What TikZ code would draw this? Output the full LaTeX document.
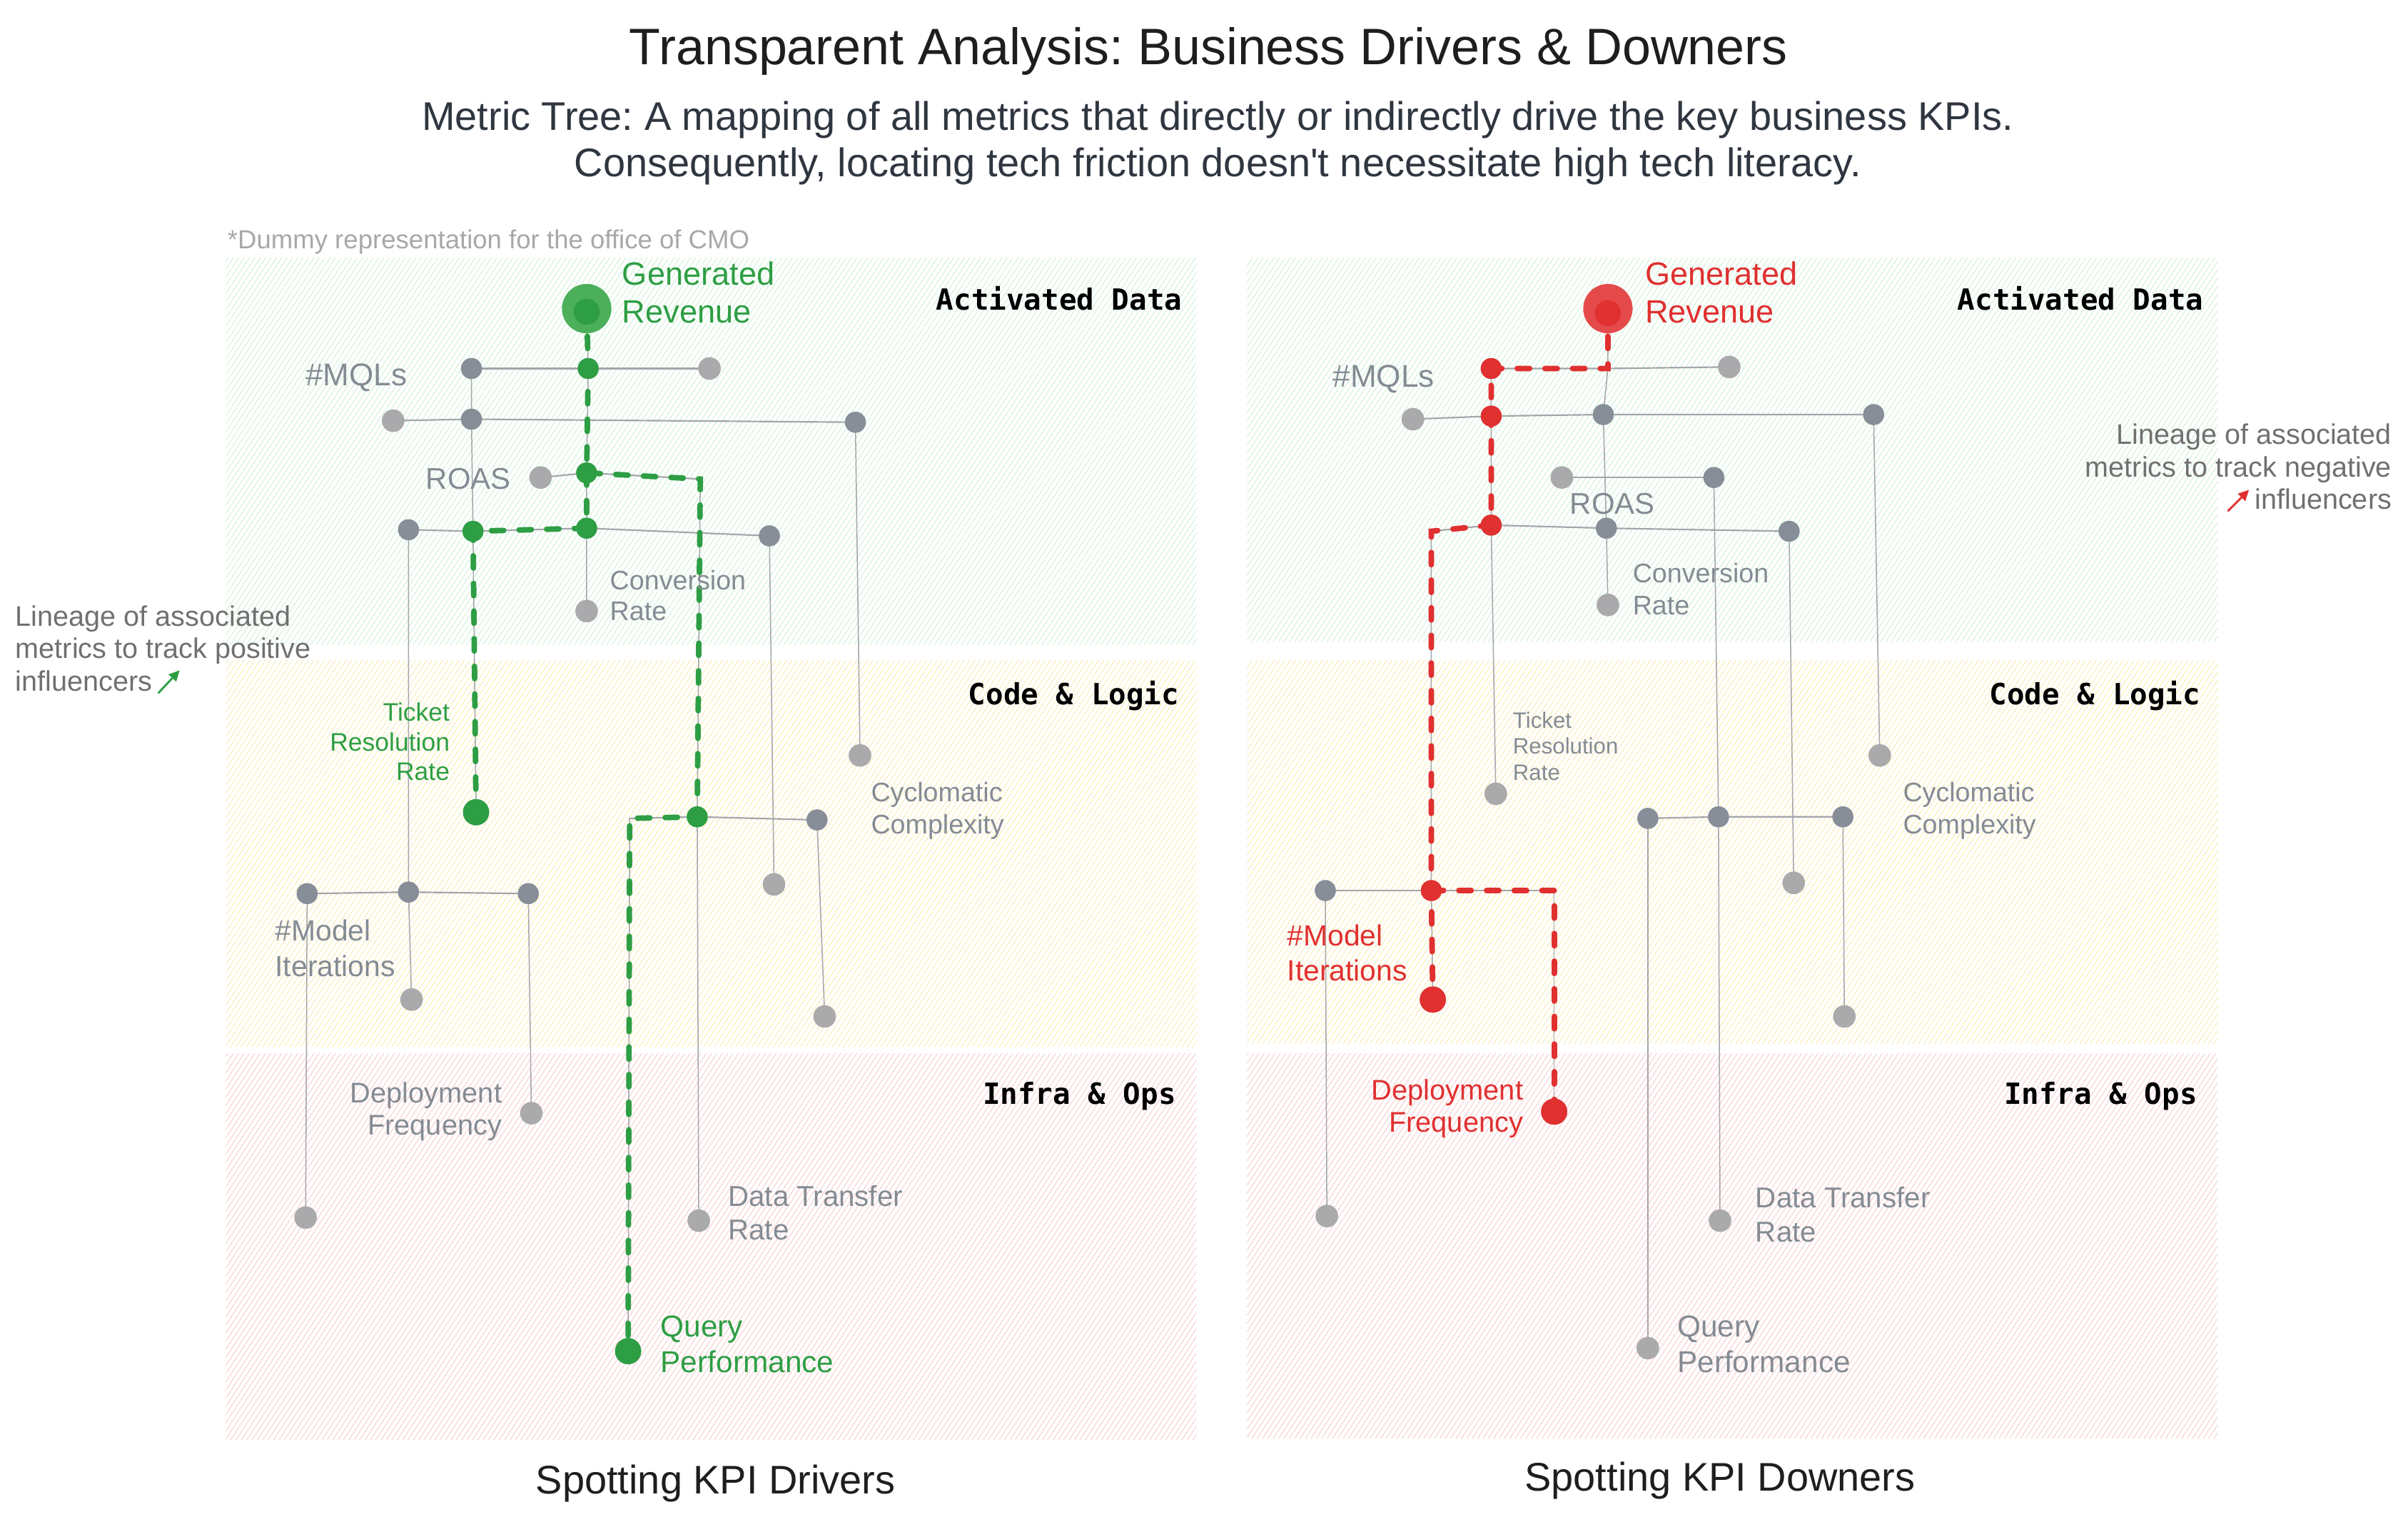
\documentclass[tikz,border=0pt]{standalone}
\usepackage{fontspec}
\setmainfont{Liberation Sans}[Ligatures=TeXOff]
\newfontfamily\monof{DejaVu Sans Mono}
\usetikzlibrary{arrows.meta}
\frenchspacing
\definecolor{grn}{HTML}{2E9E44}
\definecolor{grnL}{HTML}{4CAF5A}
\definecolor{red1}{HTML}{E03030}
\definecolor{redL}{HTML}{E54A4A}
\definecolor{dkc}{HTML}{878E98}
\definecolor{ltc}{HTML}{A9A9AB}
\definecolor{linec}{HTML}{A3A6AA}
\definecolor{labc}{HTML}{858B93}
\definecolor{annc}{HTML}{707070}
\definecolor{notec}{HTML}{A8A8A8}
\definecolor{subc}{HTML}{2F3640}
\definecolor{titc}{HTML}{1E1E1E}
\definecolor{hg}{HTML}{C8F0D0}
\definecolor{hy}{HTML}{F8EAA8}
\definecolor{hr}{HTML}{F7C6C6}
\newcommand\myfs[2]{\fontsize{#1}{#2}\selectfont}
\newcommand\myhatch[5]{%
  \begin{scope}
    \clip (#1,#2) rectangle (#3,#4);
    \foreach \xx in {-200,-196.5,...,640}{
      \draw[#5,line width=0.38pt] ({#1+\xx},#4) -- ++(175,-265);
    }
  \end{scope}}
\tikzset{
  dk/.style={circle,fill=dkc,minimum size=13.6pt,inner sep=0pt},
  lt/.style={circle,fill=ltc,fill opacity=0.85,minimum size=14.6pt,inner sep=0pt},
  gm/.style={circle,fill=grn,minimum size=13.6pt,inner sep=0pt},
  gl/.style={circle,fill=grn,minimum size=17pt,inner sep=0pt},
  rm/.style={circle,fill=red1,minimum size=13.6pt,inner sep=0pt},
  rl/.style={circle,fill=red1,minimum size=17pt,inner sep=0pt},
  gbig/.style={circle,fill=grnL,minimum size=32pt,inner sep=0pt},
  rbig/.style={circle,fill=redL,minimum size=32pt,inner sep=0pt},
  gin/.style={circle,fill=grn,minimum size=17pt,inner sep=0pt},
  rin/.style={circle,fill=red1,minimum size=17pt,inner sep=0pt},
  edgeh/.style={draw=linec,line width=1pt},
  edgev/.style={draw=linec,line width=0.7pt},
  gpath/.style={draw=grn,line width=3.6pt,dash pattern=on 8pt off 10pt,line cap=round},
  rpath/.style={draw=red1,line width=3.6pt,dash pattern=on 8pt off 10pt,line cap=round},
  lab/.style={text=labc,inner sep=0pt,align=left},
  bandlab/.style={font=\monof\bfseries\myfs{19}{22},anchor=base east,inner sep=0pt,text=black},
}
\begin{document}
\begin{tikzpicture}[x=1pt,y=-1pt]
\useasboundingbox (0,0) rectangle (1568,988);
\fill[white] (0,0) rectangle (1568,988);

% bands
\myhatch{147}{168}{779}{420}{hg}
\myhatch{147}{430}{779}{682}{hy}
\myhatch{147}{686}{779}{938}{hr}
\myhatch{812}{168}{1444}{418}{hg}
\myhatch{812}{430}{1444}{680}{hy}
\myhatch{812}{686}{1444}{937}{hr}

\node[bandlab] (lbd1) at (770,202) {Activated Data};
\node[bandlab] (lbd2) at (768,459) {Code \& Logic};
\node[bandlab] (lbd3) at (766,719) {Infra \& Ops};
\node[bandlab] (rbd1) at (1435,202) {Activated Data};
\node[bandlab] (rbd2) at (1433,459) {Code \& Logic};
\node[bandlab] (rbd3) at (1431,719) {Infra \& Ops};

% ---------- left panel nodes ----------
\coordinate (lc1) at (456,312);
\coordinate (lc2) at (410,533);
\node[gbig] (lA) at (382,201) {};
\node[dk] (lB) at (307,240) {};
\node[gm] (lC) at (383,240) {};
\node[lt] (lD) at (462,240) {};
\node[lt] (lE) at (256,274) {};
\node[dk] (lF) at (307,273) {};
\node[dk] (lG) at (557,275) {};
\node[lt] (lH) at (352,311) {};
\node[gm] (lI) at (382,308) {};
\node[dk] (lJ) at (266,345) {};
\node[gm] (lK) at (308,346) {};
\node[gm] (lL) at (382,344) {};
\node[dk] (lM) at (501,349) {};
\node[lt] (lN) at (382,398) {};
\node[gl] (lO) at (310,529) {};
\node[lt] (lP) at (560,492) {};
\node[gm] (lQ) at (454,532) {};
\node[dk] (lR) at (532,534) {};
\node[lt] (lS) at (504,576) {};
\node[lt] (lT) at (537,662) {};
\node[dk] (lU) at (200,582) {};
\node[dk] (lV) at (266,581) {};
\node[dk] (lW) at (344,582) {};
\node[lt] (lX) at (268,651) {};
\node[lt] (lY) at (346,725) {};
\node[lt] (lZ) at (199,793) {};
\node[lt] (lAA) at (455,795) {};
\node[gl] (lAB) at (409,880) {};
\node[gin] (lAin) at (382,203) {};

% ---------- right panel nodes ----------
\coordinate (rc1) at (1047,240);
\coordinate (rc2) at (932,346);
\coordinate (rc3) at (1012,580);
\node[rbig] (rA) at (1047,201) {};
\node[rm] (rR1) at (971,240) {};
\node[lt] (rD) at (1126,239) {};
\node[lt] (rE) at (920,273) {};
\node[rm] (rR2) at (971,271) {};
\node[dk] (rF) at (1044,270) {};
\node[dk] (rG) at (1220,270) {};
\node[lt] (rH) at (1017,311) {};
\node[dk] (rI) at (1116,311) {};
\node[rm] (rR3) at (971,342) {};
\node[dk] (rL) at (1046,344) {};
\node[dk] (rM) at (1165,346) {};
\node[lt] (rN) at (1047,394) {};
\node[lt] (rO) at (974,517) {};
\node[lt] (rP) at (1224,492) {};
\node[dk] (rQa) at (1073,533) {};
\node[dk] (rQ) at (1119,532) {};
\node[dk] (rW) at (1200,532) {};
\node[lt] (rS) at (1168,575) {};
\node[lt] (rT) at (1201,662) {};
\node[dk] (rU) at (863,580) {};
\node[rm] (rV) at (932,580) {};
\node[rl] (rX) at (933,651) {};
\node[rl] (rY) at (1012,724) {};
\node[lt] (rZ) at (864,792) {};
\node[lt] (rAA) at (1120,795) {};
\node[lt] (rAB) at (1073,878) {};
\node[rin] (rAin) at (1047,204) {};

% left gray edges
\draw[edgev] (lA.center) -- (lC.center) -- (lI.center) -- (lL.center) -- (lN.center);
\draw[edgev] (lB.center) -- (lF.center) -- (lK.center) -- (lO.center);
\draw[edgev] (lJ.center) -- (lV.center) -- (lX.center);
\draw[edgev] (lG.center) -- (lP.center);
\draw[edgev] (lM.center) -- (lS.center);
\draw[edgev] (lR.center) -- (lT.center);
\draw[edgev] (lU.center) -- (lZ.center);
\draw[edgev] (lW.center) -- (lY.center);
\draw[edgev] (lc1) -- (lQ.center) -- (lAA.center);
\draw[edgev] (lc2) -- (lAB.center);
\draw[edgeh] (lB.center) -- (lC.center) -- (lD.center);
\draw[edgeh] (lE.center) -- (lF.center) -- (lG.center);
\draw[edgeh] (lH.center) -- (lI.center) -- (lc1);
\draw[edgeh] (lJ.center) -- (lK.center) -- (lL.center) -- (lM.center);
\draw[edgeh] (lc2) -- (lQ.center) -- (lR.center);
\draw[edgeh] (lU.center) -- (lV.center) -- (lW.center);

% right gray edges
\draw[edgev] (rA.center) -- (rc1) -- (rF.center) -- (rL.center) -- (rN.center);
\draw[edgev] (rR1.center) -- (rR2.center) -- (rR3.center) -- (rO.center);
\draw[edgev] (rI.center) -- (rQ.center) -- (rAA.center);
\draw[edgev] (rM.center) -- (rS.center);
\draw[edgev] (rG.center) -- (rP.center);
\draw[edgev] (rc2) -- (rV.center) -- (rX.center);
\draw[edgev] (rc3) -- (rY.center);
\draw[edgev] (rU.center) -- (rZ.center);
\draw[edgev] (rQa.center) -- (rAB.center);
\draw[edgev] (rW.center) -- (rT.center);
\draw[edgeh] (rR1.center) -- (rc1) -- (rD.center);
\draw[edgeh] (rE.center) -- (rR2.center) -- (rF.center) -- (rG.center);
\draw[edgeh] (rH.center) -- (rI.center);
\draw[edgeh] (rc2) -- (rR3.center) -- (rL.center) -- (rM.center);
\draw[edgeh] (rU.center) -- (rV.center) -- (rc3);
\draw[edgeh] (rQa.center) -- (rQ.center) -- (rW.center);

% redraw nodes above lines
\foreach \n/\s in {lB/dk,lF/dk,lG/dk,lJ/dk,lM/dk,lR/dk,lU/dk,lV/dk,lW/dk,
  lD/lt,lE/lt,lH/lt,lN/lt,lP/lt,lS/lt,lT/lt,lX/lt,lY/lt,lZ/lt,lAA/lt,
  rF/dk,rG/dk,rI/dk,rL/dk,rM/dk,rQa/dk,rQ/dk,rW/dk,rU/dk,
  rD/lt,rE/lt,rH/lt,rN/lt,rO/lt,rP/lt,rS/lt,rT/lt,rZ/lt,rAA/lt,rAB/lt}{
  \node[\s] at (\n) {};
}
\node[gbig] at (lA) {};
\node[gin] at (lAin) {};
\node[rbig] at (rA) {};
\node[rin] at (rAin) {};

% lineage paths
\draw[gpath] (lA.center) -- (lC.center) -- (lI.center) -- (lc1) -- (lQ.center) -- (lc2) -- (lAB.center);
\draw[gpath] (lI.center) -- (lL.center) -- (lK.center) -- (lO.center);
\draw[rpath] (rA.center) -- (rc1) -- (rR1.center) -- (rR2.center) -- (rR3.center) -- (rc2) -- (rV.center) -- (rX.center);
\draw[rpath] (rV.center) -- (rc3) -- (rY.center);
\foreach \n/\s in {lC/gm,lI/gm,lK/gm,lL/gm,lQ/gm,lO/gl,lAB/gl,rR1/rm,rR2/rm,rR3/rm,rV/rm,rX/rl,rY/rl}{
  \node[\s] at (\n) {};
}

% ---------- left labels ----------
\node[lab,text=grn,anchor=west,font=\myfs{21}{25}] (lAlab) at (405,190.5) {Generated\\Revenue};
\node[lab,font=\myfs{20.5}{24}] (lBlab) at (232,246) {\#MQLs};
\node[lab,font=\myfs{19.5}{23}] (lHlab) at (305,312) {ROAS};
\node[lab,anchor=west,font=\myfs{17.5}{20}] (lNlab) at (397,388) {Conversion\\Rate};
\node[lab,text=grn,align=right,anchor=east,font=\myfs{16.5}{19.5}] (lOlab) at (293,483) {Ticket\\Resolution\\Rate};
\node[lab,anchor=west,font=\myfs{17.5}{21}] (lPlab) at (567,528) {Cyclomatic\\Complexity};
\node[lab,anchor=west,font=\myfs{19}{23}] (lUlab) at (179,617.5) {\#Model\\Iterations};
\node[lab,align=right,anchor=east,font=\myfs{18.5}{21}] (lYlab) at (327,724) {Deployment\\Frequency};
\node[lab,anchor=west,font=\myfs{18.7}{22}] (lAAlab) at (474,790) {Data Transfer\\Rate};
\node[lab,text=grn,anchor=west,font=\myfs{19.7}{23}] (lABlab) at (430,875.5) {Query\\Performance};

% ---------- right labels ----------
\node[lab,text=red1,anchor=west,font=\myfs{21}{25}] (rAlab) at (1071,190.5) {Generated\\Revenue};
\node[lab,font=\myfs{20.5}{24}] (rBlab) at (901,247) {\#MQLs};
\node[lab,font=\myfs{19.5}{23}] (rHlab) at (1050,328) {ROAS};
\node[lab,anchor=west,font=\myfs{17.5}{21}] (rNlab) at (1063,383.5) {Conversion\\Rate};
\node[lab,anchor=west,font=\myfs{14.5}{17}] (rOlab) at (985,486) {Ticket\\Resolution\\Rate};
\node[lab,anchor=west,font=\myfs{17.5}{21}] (rPlab) at (1239,528) {Cyclomatic\\Complexity};
\node[lab,text=red1,anchor=west,font=\myfs{19}{23}] (rXlab) at (838,620.5) {\#Model\\Iterations};
\node[lab,text=red1,align=right,anchor=east,font=\myfs{18.5}{21}] (rYlab) at (992,722) {Deployment\\Frequency};
\node[lab,anchor=west,font=\myfs{18.7}{22}] (rAAlab) at (1143,791) {Data Transfer\\Rate};
\node[lab,anchor=west,font=\myfs{19.7}{23}] (rABlab) at (1092,875.5) {Query\\Performance};

% ---------- titles ----------
\node[anchor=base,inner sep=0pt,text=titc,font=\myfs{33.4}{38}] (title) at (787,42) {Transparent Analysis: Business Drivers \& Downers};
\node[anchor=base,inner sep=0pt,text=subc,font=\myfs{26}{30}] (sub1) at (793,85) {Metric Tree: A mapping of all metrics that directly or indirectly drive the key business KPIs.};
\node[anchor=base,inner sep=0pt,text=subc,font=\myfs{26}{30}] (sub2) at (793,115) {Consequently, locating tech friction doesn't necessitate high tech literacy.};
\node[anchor=base west,inner sep=0pt,text=notec,font=\myfs{17}{20}] (note) at (148,162) {*Dummy representation for the office of CMO};
\node[anchor=base,inner sep=0pt,text=titc,font=\myfs{26}{30}] (st1) at (466,973) {Spotting KPI Drivers};
\node[anchor=base,inner sep=0pt,text=titc,font=\myfs{26}{30}] (st2) at (1120,971) {Spotting KPI Downers};

% ---------- annotations ----------
\node[anchor=base west,inner sep=0pt,text=annc,font=\myfs{18.4}{21}] (annL1) at (10,408) {Lineage of associated};
\node[anchor=base west,inner sep=0pt,text=annc,font=\myfs{18.4}{21}] (annL2) at (10,428.5) {metrics to track positive};
\node[anchor=base west,inner sep=0pt,text=annc,font=\myfs{18.4}{21}] (annL3) at (10,450) {influencers};
\coordinate (aL0) at (103,451.5);
\coordinate (aL1) at (117,436.5);
\draw[grn,line width=1.3pt,-{Triangle[length=7pt,width=6.5pt]}] (aL0) -- (aL1);

\node[anchor=base east,inner sep=0pt,text=annc,font=\myfs{18.4}{21}] (annR1) at (1557.5,289.3) {Lineage of associated};
\node[anchor=base east,inner sep=0pt,text=annc,font=\myfs{18.4}{21}] (annR2) at (1557.5,310.6) {metrics to track negative};
\node[anchor=base east,inner sep=0pt,text=annc,font=\myfs{18.4}{21}] (annR3) at (1557.5,331.8) {influencers};
\coordinate (aR0) at (1450.6,333);
\coordinate (aR1) at (1464.5,319);
\draw[red1,line width=1.3pt,-{Triangle[length=7pt,width=6.5pt]}] (aR0) -- (aR1);
\end{tikzpicture}
\end{document}
